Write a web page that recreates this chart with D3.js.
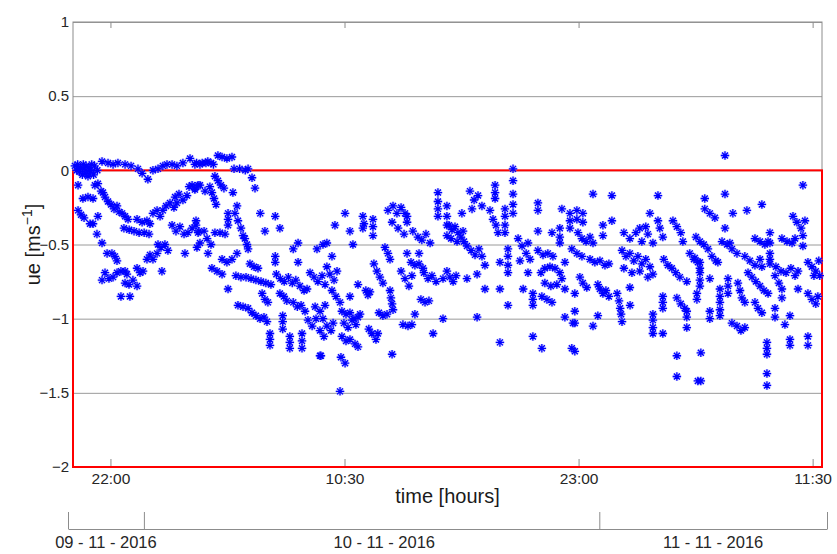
<!DOCTYPE html>
<html>
<head>
<meta charset="utf-8">
<script src="https://cdn.jsdelivr.net/npm/d3@7"></script>
<style>
  body { margin: 0; background: #fff; }
  svg { display: block; font-family: "Liberation Sans", Arial, Helvetica, sans-serif; }
</style>
</head>
<body>
<svg id="chart" width="837" height="554"></svg>
<script>
// time axis: hours counted from 09-11-2016 20:00 (UTC used to avoid tz shifts)
var startTime = '2016-11-09T20:00';
var endTime = '2016-11-11T12:00';
var timeTicks = ['2016-11-09T22:00', '2016-11-10T10:30', '2016-11-10T23:00', '2016-11-11T11:30'];
var dayBounds = ['2016-11-09T20:00', '2016-11-10T00:00', '2016-11-11T00:00', '2016-11-11T12:00'];
var dayLabels = ['09 - 11 - 2016', '10 - 11 - 2016', '11 - 11 - 2016'];
var dayLabelTimes = ['2016-11-09T22:00', '2016-11-10T12:40', '2016-11-11T06:00'];
var ueTicks = [-2, -1.5, -1, -0.5, 0, 0.5, 1];
var ueDomain = [-2, 1];
var limitBand = [-2, 0];

// [hours since start, ue]
var pointsEarly = [
    [0.1,0.03],[0.25,0.04],[0.4,0.02],[0.55,0.04],[0.7,0.03],[0.85,0.02],[1.0,0.04],[1.15,0.03],
    [0.2,0.0],[0.35,-0.01],[0.5,-0.03],[0.65,-0.02],[0.8,-0.04],[0.95,-0.01],[1.1,-0.03],[1.3,0.0],
    [0.3,0.01],[0.6,0.01],[0.9,0.0],
    [1.55,0.06],[1.87,0.05],[2.14,0.04],[2.4,0.05],[2.78,0.04],[3.1,0.03],[3.47,0.01],[3.69,-0.02],
    [4.0,-0.06],[4.27,0.0],[4.54,0.01],[4.8,0.03],[5.02,0.04],[5.29,0.04],[5.55,0.03],[5.87,0.05],
    [6.25,0.08],[6.51,0.04],[6.78,0.04],[7.1,0.05],[7.37,0.05],[7.74,0.1],[7.96,0.09],[8.22,0.08],
    [8.49,0.09],[8.6,0.01],[8.9,0.01],[9.2,0.0],[9.35,0.01],[6.6,0.05],[6.9,0.05],[7.2,0.06],[7.5,0.04],
    [9.56,-0.05],[9.72,-0.12],
    [0.27,-0.1],[0.53,-0.19],[0.8,-0.18],[1.07,-0.19],[0.27,-0.27],[0.43,-0.3],[0.59,-0.32],
    [0.91,-0.36],[1.07,-0.36],[1.33,-0.31],[1.28,-0.43],[1.55,-0.49],[1.82,-0.56],
    [2.08,-0.56],[2.24,-0.58],[2.35,-0.61],[1.55,-0.74],[1.71,-0.69],[1.92,-0.73],[2.14,-0.72],
    [2.35,-0.69],[2.56,-0.68],[2.78,-0.68],[2.88,-0.7],[2.78,-0.76],[2.99,-0.77],[3.2,-0.74],[3.42,-0.78],
    [2.56,-0.85],[3.04,-0.85],[3.42,-0.66],[3.58,-0.69],[3.74,-0.68],
    [3.95,-0.6],[4.11,-0.57],[4.27,-0.6],[4.49,-0.56],[4.54,-0.5],[4.7,-0.52],[4.91,-0.5],[5.07,-0.54],
    [4.75,-0.68],[5.98,-0.56],[6.62,-0.52],
    [1.17,-0.1],[1.33,-0.09],[1.5,-0.14],[1.6,-0.15],[1.71,-0.18],[1.87,-0.21],[2.03,-0.23],[2.19,-0.26],
    [2.35,-0.24],[2.46,-0.28],[2.62,-0.29],[2.78,-0.31],[2.94,-0.33],
    [2.72,-0.39],[3.0,-0.4],[3.26,-0.41],[3.53,-0.42],[3.8,-0.42],[4.06,-0.43],
    [3.42,-0.33],[3.69,-0.35],[3.95,-0.34],[4.11,-0.36],[4.27,-0.29],[4.49,-0.27],[4.65,-0.31],[4.8,-0.27],
    [4.97,-0.24],[5.18,-0.22],[5.39,-0.25],[5.55,-0.22],[5.45,-0.18],[5.66,-0.16],[5.87,-0.2],[6.09,-0.17],
    [6.2,-0.11],[6.36,-0.1],[6.51,-0.13],[6.68,-0.1],
    [5.29,-0.37],[5.5,-0.41],[5.71,-0.38],[5.93,-0.43],[6.14,-0.42],[6.36,-0.39],[6.57,-0.37],[6.73,-0.41]
];

var pointsMorning = [
    [6.51,-0.12],[6.78,-0.1],[7.05,-0.14],[7.31,-0.11],[7.42,-0.15],[7.53,-0.19],[7.64,-0.23],
    [7.58,-0.04],[7.74,-0.07],[7.9,-0.1],[8.06,-0.12],[8.54,-0.15],[8.76,-0.24],
    [8.28,-0.29],[8.28,-0.33],[8.28,-0.37],[8.65,-0.29],[8.81,-0.34],[8.97,-0.39],[9.08,-0.44],
    [10.0,-0.29],[10.8,-0.31],[10.25,-0.41],[11.05,-0.39],[9.18,-0.46],[9.29,-0.5],[9.35,-0.53],
    [6.57,-0.34],[6.68,-0.42],[6.78,-0.49],[7.0,-0.41],[7.16,-0.46],[7.37,-0.5],[7.58,-0.42],[7.85,-0.42],
    [8.12,-0.43],[7.21,-0.56],[7.96,-0.6],[8.22,-0.62],[8.49,-0.6],[8.76,-0.56],
    [7.42,-0.66],[7.69,-0.68],[7.96,-0.7],[8.28,-0.8],
    [8.7,-0.71],[8.97,-0.72],[9.24,-0.72],[9.51,-0.73],[9.77,-0.74],[10.04,-0.75],[10.3,-0.76],[10.57,-0.77],
    [9.45,-0.63],[9.67,-0.65],[9.88,-0.66],[10.8,-0.58],[10.8,-0.62],
    [10.86,-0.7],[11.07,-0.73],[11.28,-0.75],[11.5,-0.72],[11.71,-0.76],
    [11.76,-0.53],[12.02,-0.49],[12.02,-0.62],[11.9,-0.74],[12.12,-0.78],[12.34,-0.81],[12.5,-0.8],
    [12.66,-0.69],[12.87,-0.72],[13.08,-0.75],[13.3,-0.71],[13.46,-0.77],[13.03,-0.53],[13.35,-0.5],
    [10.1,-0.83],[10.25,-0.87],[10.41,-0.89],[8.81,-0.91],[9.08,-0.92],[9.35,-0.93],
    [9.56,-0.96],[9.77,-0.98],[9.99,-1.0],[10.2,-0.99],[10.36,-1.02],
    [10.52,-1.1],[10.52,-1.14],[10.52,-1.18],[11.05,-0.83],[11.26,-0.85],[11.42,-0.88],
    [11.2,-0.98],[11.2,-1.02],[11.2,-1.07],[11.58,-1.12],[11.58,-1.16],[11.58,-1.2],
    [11.76,-0.89],[11.98,-0.92],[12.18,-0.91],[12.39,-0.95],[12.23,-1.1],[12.23,-1.15],[12.23,-1.2],
    [12.55,-1.01],[12.77,-1.05],[12.98,-1.0],[13.19,-1.08],[13.4,-1.12],[13.19,-1.25],
    [12.93,-0.92],[13.19,-0.95],[13.46,-0.91]
];

var pointsDay = [
    [13.56,-0.65],[13.72,-0.7],[13.94,-0.74],[14.1,-0.68],[13.35,-1.0],[13.56,-1.05],[13.78,-1.08],[13.89,-1.03],
    [13.24,-1.25],[13.56,-0.49],[13.83,-0.58],[13.99,-0.37],[14.53,-0.29],[14.79,-0.41],[14.95,-0.5],
    [13.83,-0.81],[14.04,-0.85],[14.26,-0.89],
    [14.36,-0.95],[14.58,-0.97],[14.79,-0.96],[15.0,-1.0],[15.22,-0.99],[14.47,-1.03],[14.69,-1.06],
    [14.9,-1.01],[15.11,-1.04],[15.33,-0.97],
    [14.36,-1.12],[14.58,-1.15],[14.79,-1.14],[15.06,-1.17],[15.22,-1.19],[14.31,-1.26],[14.53,-1.3],
    [14.26,-1.49],[14.79,-0.85],[15.22,-0.77],[15.64,-0.81],[15.75,-0.84],[15.86,-0.82],
    [15.8,-1.07],[15.96,-1.1],[16.18,-1.14],[16.28,-1.1],
    [15.48,-0.31],[15.54,-0.36],[15.48,-0.39],[16.02,-0.33],[16.02,-0.38],[16.02,-0.44],
    [16.07,-0.63],[16.23,-0.68],[16.39,-0.72],[16.55,-0.76],[16.34,-0.96],[16.55,-0.98],[16.77,-0.97],
    [17.04,-1.24],[16.93,-0.81],[16.98,-0.86],[17.04,-0.9],[17.09,-0.94],
    [16.66,-0.52],[16.82,-0.56],[16.93,-0.6],
    [16.82,-0.27],[17.09,-0.24],[17.3,-0.29],[17.52,-0.25],[17.73,-0.29],[17.04,-0.35],[17.36,-0.39],[17.68,-0.43],
    [17.84,-0.31],[17.84,-0.35],[17.52,-0.68],[17.73,-0.73],[17.94,-0.78],[18.1,-0.71],
    [17.62,-1.04],[17.89,-1.05],[18.1,-1.04],[18.26,-0.97],[17.84,-0.56],
    [18.15,-0.41],[18.42,-0.45],[18.63,-0.47],[18.85,-0.43],[19.07,-0.49],
    [18.05,-0.62],[18.26,-0.64],[18.48,-0.63],[18.69,-0.66],[18.48,-0.56],
    [18.58,-0.87],[18.8,-0.89],[19.01,-0.88],[18.74,-0.69],[18.96,-0.73],[19.17,-0.71],[19.39,-0.75],
    [19.23,-1.1],[19.49,-0.15],[19.49,-0.21],[19.49,-0.26],[19.49,-0.31],[19.76,-0.73],[19.76,-1.0],
    [19.97,-0.24],[19.97,-0.31],[19.97,-0.37],[19.97,-0.44],
    [20.08,-0.37],[20.24,-0.4],[20.4,-0.38],[20.56,-0.42],[20.72,-0.45],[20.88,-0.48],[20.19,-0.46],
    [20.51,-0.48],[20.83,-0.41],[20.77,-0.29],
    [19.97,-0.68],[20.13,-0.72],[20.3,-0.75],[20.46,-0.71],[21.04,-0.73],[21.58,-0.7],[21.58,-0.99],
    [21.2,-0.14],[21.42,-0.2],[21.63,-0.17],[21.84,-0.24],[21.31,-0.26],
    [21.04,-0.51],[21.26,-0.54],[21.47,-0.57],[21.68,-0.53],[21.84,-0.58],[22.0,-0.64],[22.0,-0.8],
    [22.27,-0.27],[22.43,-0.33],[22.59,-0.37],[22.7,-0.42],[22.54,-0.1],[22.54,-0.15],[22.54,-0.19],
    [22.8,-0.62],[22.8,-0.8],[22.8,-1.16],
    [23.07,-0.26],[23.07,-0.31],[23.07,-0.37],[23.07,-0.42],[23.23,-0.53],[23.23,-0.58],[23.23,-0.64],
    [23.23,-0.69],[23.23,-0.91],
    [23.5,0.01],[23.5,-0.07],[23.5,-0.16],[23.5,-0.23],[23.5,-0.29],
    [23.77,-0.46],[23.98,-0.51],[24.2,-0.56],[24.41,-0.6],[23.87,-0.61],[24.3,-0.49],
    [24.04,-0.8],[24.3,-0.69],[24.56,-0.83],[24.56,-0.87],[24.56,-0.91],[24.56,-1.12],
    [24.83,-0.22],[24.83,-0.27],[24.83,-0.41],[25.04,-1.2],
    [24.83,-0.54],[25.1,-0.57],[25.36,-0.56],[25.63,-0.58],
    [24.99,-0.69],[25.2,-0.66],[25.47,-0.65],[25.74,-0.66],[26.0,-0.69],[26.11,-0.73],[25.84,-0.77],
    [25.52,-0.78],[25.2,-0.76],
    [25.04,-0.85],[25.31,-0.87],[25.58,-0.89],[25.58,-0.42],[26.11,-0.26],
    [26.0,-0.39],[26.0,-0.45],[26.0,-0.49],[26.27,-0.62],[26.27,-0.8],[26.27,-0.99],
    [26.54,-0.29],[26.54,-0.34],[26.54,-0.39],[26.7,-1.03],[26.64,-1.2]
];

var pointsNight = [
    [26.91,-0.27],[26.91,-0.33],[27.23,-0.29],[27.23,-0.35],[27.77,-0.16],[28.78,-0.17],[31.24,-0.17],
    [26.97,-0.42],[27.18,-0.46],[27.4,-0.48],[27.61,-0.45],[27.77,-0.49],[28.3,-0.37],[28.3,-0.44],[28.78,-0.34],
    [26.64,-0.53],[26.91,-0.56],[27.18,-0.58],
    [27.61,-0.6],[27.87,-0.62],[28.14,-0.61],[28.41,-0.64],[28.62,-0.63],
    [27.07,-0.72],[27.23,-0.76],[27.44,-0.79],
    [28.03,-0.77],[28.14,-0.8],[28.3,-0.83],[28.46,-0.81],[28.62,-0.85],
    [26.8,-0.83],[26.8,-0.95],[26.8,-1.03],[28.03,-0.98],[27.77,-1.05],[26.8,-1.22],
    [29.06,-0.83],[29.16,-0.88],[29.22,-0.93],[29.27,-0.97],[29.32,-1.02],[29.75,-0.91],
    [29.32,-0.54],[29.53,-0.58],[29.74,-0.56],[29.95,-0.61],[30.17,-0.58],[30.38,-0.63],[30.59,-0.6],
    [30.81,-0.65],[29.42,-0.66],[29.85,-0.69],[30.27,-0.68],[30.7,-0.72],
    [29.42,-0.42],[29.74,-0.46],[30.06,-0.42],[30.38,-0.48],[30.7,-0.43],[30.97,-0.49],[30.27,-0.39],[30.59,-0.38],
    [30.81,-0.29],[29.74,-0.79],[30.97,-0.7],
    [30.97,-0.97],[30.97,-1.01],[30.97,-1.06],[30.97,-1.1],[31.5,-1.1],
    [31.24,-0.34],[31.34,-0.39],[31.5,-0.45],
    [31.55,-0.6],[31.77,-0.64],[31.98,-0.66],[32.19,-0.69],[32.41,-0.72],
    [32.04,-0.34],[32.25,-0.38],[32.46,-0.42],[32.57,-0.48],
    [31.5,-0.85],[31.5,-0.89],[31.5,-0.93],[32.25,-0.86],[32.46,-0.9],[32.67,-0.93],[32.78,-0.95],
    [32.78,-0.75],[32.78,-0.99],[32.78,-1.06],
    [32.94,-0.56],[33.16,-0.6],[33.37,-0.62],[33.48,-0.66],
    [32.25,-1.25],[32.25,-1.39],[33.37,-1.42],
    [34.82,0.1],[33.74,-0.19],[34.82,-0.16],[38.98,-0.1],
    [33.74,-0.26],[34.01,-0.29],[34.28,-0.32],[35.24,-0.29],[35.99,-0.27],[36.79,-0.23],
    [38.45,-0.31],[38.66,-0.35],[38.88,-0.39],[39.09,-0.34],[34.82,-0.39],
    [33.27,-0.45],[33.48,-0.48],[33.69,-0.5],[33.91,-0.53],
    [34.66,-0.48],[34.93,-0.5],[35.19,-0.53],[35.46,-0.56],[35.08,-0.49],
    [36.42,-0.46],[36.69,-0.48],[36.95,-0.5],[37.12,-0.48],[37.22,-0.42],[37.22,-0.49],
    [37.86,-0.46],[38.13,-0.48],[38.4,-0.49],[38.56,-0.46],[38.98,-0.44],[38.98,-0.51],
    [33.21,-0.59],[33.48,-0.62],[34.12,-0.58],[34.33,-0.61],[34.44,-0.62],
    [35.88,-0.58],[36.15,-0.61],[36.42,-0.64],[36.69,-0.6],[36.79,-0.65],
    [37.22,-0.56],[37.22,-0.6],[37.22,-0.63],
    [37.54,-0.65],[37.81,-0.68],[38.08,-0.69],[38.34,-0.66],[38.56,-0.71],[38.72,-0.68],
    [39.25,-0.62],[39.46,-0.65],[39.67,-0.68],[39.83,-0.61],[39.88,-0.71],[39.57,-0.71],
    [33.48,-0.69],[33.48,-0.74],[33.48,-0.78],[34.01,-0.73],
    [34.98,-0.73],[34.98,-0.78],[34.98,-0.83],
    [35.51,-0.76],[35.62,-0.81],[35.72,-0.86],[35.88,-0.89],
    [36.05,-0.69],[36.26,-0.72],[36.47,-0.75],[36.69,-0.78],[36.9,-0.81],[37.12,-0.83],
    [37.49,-0.71],[37.7,-0.76],[37.86,-0.8],
    [34.55,-0.8],[34.55,-0.85],[34.55,-0.89],[34.55,-0.94],[34.55,-0.98],
    [34.01,-0.95],[34.01,-1.0],[33.32,-0.83],[33.32,-0.87],
    [36.42,-0.89],[36.58,-0.93],[36.79,-0.96],[37.49,-0.93],[37.49,-0.99],[37.86,-0.86],[38.29,-0.98],
    [38.72,-0.8],[39.25,-0.83],[39.46,-0.87],[39.67,-0.9],[39.78,-0.85],
    [35.19,-1.03],[35.46,-1.05],[35.67,-1.08],[35.88,-1.06],[38.02,-1.04],
    [38.29,-1.14],[38.29,-1.18],[39.25,-1.12],[39.25,-1.18],
    [37.06,-1.16],[37.06,-1.2],[37.06,-1.24],[37.06,-1.37],[37.06,-1.45],
    [33.53,-1.23],[33.53,-1.42]
];

var parseTime = d3.utcParse('%Y-%m-%dT%H:%M');
var t0 = parseTime(startTime);
var t1 = parseTime(endTime);

// plot box in pixels (window.top is reserved, so no bare "top")
var plotLeft = 73, plotRight = 822, plotTop = 22, plotBottom = 467;

var svg = d3.select('#chart');

var x = d3.scaleUtc().domain([t0, t1]).range([plotLeft, plotRight]);
var xDays = d3.scaleUtc().domain([t0, t1]).range([68, 827]);
var y = d3.scaleLinear().domain(ueDomain).range([plotBottom, plotTop]);

var fmtTick = function (v) {
    return d3.format('')(v).replace('-', '\u2212');
};

// horizontal grid lines
svg.append('g')
    .attr('transform', `translate(${plotLeft},0)`)
    .call(d3.axisLeft(y).tickValues(ueTicks).tickSize(-(plotRight - plotLeft)).tickFormat(''))
    .call(function (g) {
        g.select('.domain').remove();
        g.selectAll('line').attr('stroke', '#9a9a9a');
    });

// box
svg.append('rect')
    .attr('x', plotLeft)
    .attr('y', plotTop)
    .attr('width', plotRight - plotLeft)
    .attr('height', plotBottom - plotTop)
    .attr('fill', 'none')
    .attr('stroke', '#8c8c8c');

// y tick labels
svg.append('g')
    .attr('transform', `translate(${plotLeft},0)`)
    .call(d3.axisLeft(y).tickValues(ueTicks).tickSize(0).tickPadding(4).tickFormat(fmtTick))
    .call(function (g) {
        g.select('.domain').remove();
        g.selectAll('text').attr('font-size', 15).attr('fill', '#262626');
    });

// bottom time axis, ticks pointing inward
svg.append('g')
    .attr('transform', `translate(0,${plotBottom})`)
    .call(d3.axisBottom(x)
        .tickValues(timeTicks.map(parseTime))
        .tickSizeInner(-8)
        .tickSizeOuter(0)
        .tickPadding(6)
        .tickFormat(d3.utcFormat('%H:%M')))
    .call(function (g) {
        g.select('.domain').remove();
        g.selectAll('line').attr('stroke', '#8c8c8c');
        g.selectAll('text').attr('font-size', 15.5).attr('fill', '#262626');
    });

// top axis ticks
svg.append('g')
    .attr('transform', `translate(0,${plotTop})`)
    .call(d3.axisTop(x).tickValues(timeTicks.map(parseTime)).tickSizeInner(-6).tickSizeOuter(0).tickFormat(''))
    .call(function (g) {
        g.select('.domain').remove();
        g.selectAll('line').attr('stroke', '#8c8c8c');
    });

// red limit band
svg.append('rect')
    .attr('x', plotLeft)
    .attr('y', y(limitBand[1]))
    .attr('width', plotRight - plotLeft)
    .attr('height', y(limitBand[0]) - y(limitBand[1]))
    .attr('fill', 'none')
    .attr('stroke', '#ff0000')
    .attr('stroke-width', 2);

// matlab style asterisk marker
var asterisk = {
    draw: function (ctx, size) {
        var r = Math.sqrt(size) / 2;
        var d = r * Math.SQRT1_2;
        ctx.moveTo(-r, 0); ctx.lineTo(r, 0);
        ctx.moveTo(0, -r); ctx.lineTo(0, r);
        ctx.moveTo(-d, -d); ctx.lineTo(d, d);
        ctx.moveTo(-d, d); ctx.lineTo(d, -d);
    }
};
var marker = d3.symbol().type(asterisk).size(72);

var allPoints = pointsEarly.concat(pointsMorning, pointsDay, pointsNight);

var placePoint = function (d) {
    var t = new Date(t0.getTime() + d[0] * 3600e3);
    return `translate(${x(t)},${y(d[1])})`;
};

// soft halo under each star, like the blurred original
svg.append('g')
    .selectAll('path')
    .data(allPoints)
    .join('path')
    .attr('transform', placePoint)
    .attr('d', marker)
    .attr('fill', 'none')
    .attr('stroke', '#8a8aff')
    .attr('stroke-opacity', 0.35)
    .attr('stroke-width', 3);

svg.append('g')
    .selectAll('path')
    .data(allPoints)
    .join('path')
    .attr('transform', placePoint)
    .attr('d', marker)
    .attr('fill', 'none')
    .attr('stroke', '#0000ff')
    .attr('stroke-width', 1.3);

// axis titles
svg.append('text')
    .attr('x', (plotLeft + plotRight) / 2)
    .attr('y', 503)
    .attr('text-anchor', 'middle')
    .attr('font-size', 20)
    .attr('fill', '#1a1a1a')
    .text('time [hours]');

var yTitle = svg.append('text')
    .attr('transform', `translate(40,${(plotTop + plotBottom) / 2}) rotate(-90)`)
    .attr('text-anchor', 'middle')
    .attr('font-size', 20)
    .attr('fill', '#1a1a1a');
yTitle.append('tspan').text('ue [ms');
yTitle.append('tspan').attr('font-size', 14).attr('dy', -8).text('\u22121');
yTitle.append('tspan').attr('dy', 8).text(']');

// date axis underneath
svg.append('g')
    .attr('transform', 'translate(0,529)')
    .call(d3.axisBottom(xDays)
        .tickValues(dayBounds.map(parseTime))
        .tickSizeInner(-17)
        .tickSizeOuter(0)
        .tickFormat(''))
    .call(function (g) {
        g.selectAll('line, path').attr('stroke', '#8c8c8c');
    });

svg.append('g')
    .selectAll('text')
    .data(dayLabels)
    .join('text')
    .attr('x', function (d, i) { return xDays(parseTime(dayLabelTimes[i])); })
    .attr('y', 548)
    .attr('text-anchor', 'middle')
    .attr('font-size', 16.5)
    .attr('fill', '#262626')
    .text(function (d) { return d; });
</script>
</body>
</html>
